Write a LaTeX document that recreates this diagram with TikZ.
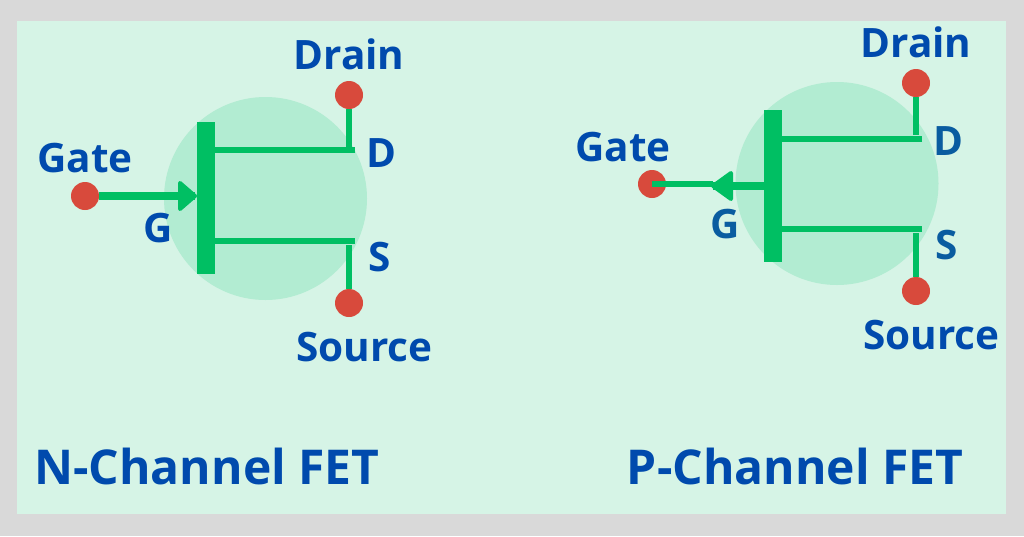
\documentclass[tikz,border=0pt]{standalone}
\usepackage{fontspec}
\setmainfont{Open Sans}
\usetikzlibrary{positioning}
\definecolor{framegray}{HTML}{D9D9D9}
\definecolor{panelgreen}{HTML}{D6F4E6}
\definecolor{blobgreen}{HTML}{B2ECD2}
\definecolor{wiregreen}{HTML}{00BF63}
\definecolor{pinred}{HTML}{D84A3C}
\definecolor{textblue}{HTML}{004AAD}
\definecolor{lettersblue}{HTML}{0A5CA0}
\tikzset{
  wire/.style={draw=wiregreen, line width=6.5pt},
  gatewire/.style={draw=wiregreen, line width=7.5pt},
  pin/.style={circle, fill=pinred, minimum size=28pt, inner sep=0pt},
  gatebar/.style={fill=wiregreen, minimum width=18pt, minimum height=152pt, inner sep=0pt},
  tip/.style={fill=wiregreen, draw=wiregreen, line width=4pt, line join=round},
  lbl/.style={text=textblue, font=\bfseries\fontsize{40.5}{40.5}\selectfont, inner sep=0pt},
  title/.style={text=textblue, font=\bfseries\fontsize{48}{48}\selectfont, inner sep=0pt},
  blob/.style={circle, fill=blobgreen, minimum size=203pt, inner sep=0pt}
}
\begin{document}
\begin{tikzpicture}[x=1pt, y=-1pt]
  \useasboundingbox (0,0) rectangle (1024,536);
  \fill[framegray] (0,0) rectangle (1024,536);
  \fill[panelgreen] (17,21) rectangle (1006,514);

  % n channel
  \node[blob] (nblob) at (265.5,198.5) {};
  \node[gatebar] (nbar) at (206,198) {};
  \node[pin] (ngate) at (85,196) {};
  \node[pin] (ndrain) at (349,95) {};
  \node[pin] (nsource) at (349,303) {};
  \coordinate (nd) at (349,147);
  \coordinate (ndend) at (355,150);
  \coordinate (ns) at (349,245);
  \coordinate (nsend) at (355,241);
  \draw[wire] (ndrain) -- (nd);
  \draw[wire] (nsource) -- (ns);
  \draw[wire] (ndend) -- (ndend -| nbar);
  \draw[wire] (nsend) -- (nsend -| nbar);
  \coordinate (ntip) at (195,196);
  \draw[gatewire] (ngate) -- (ntip);
  \draw[tip] (ntip) -- ++(-15,-13) -- ++(0,26) -- cycle;
  \node[lbl] (ngatel) at (85,158) {Gate};
  \node[lbl] (ndrainl) at (349,54) {Drain};
  \node[lbl] (nsourcel) at (364.5,347) {Source};
  \node[lbl] (ng) at (158,228) {G};
  \node[lbl] (ndl) at (381,153) {D};
  \node[lbl] (nsl) at (380,257) {S};
  \node[title] (ntitle) at (207,466) {N-Channel FET};

  % p channel
  \node[blob] (pblob) at (837,183.5) {};
  \node[gatebar] (pbar) at (773,186) {};
  \node[pin] (pgate) at (652,184) {};
  \node[pin] (pdrain) at (916,83) {};
  \node[pin] (psource) at (916,291) {};
  \coordinate (pd) at (916,135);
  \coordinate (pdend) at (922,139);
  \coordinate (ps) at (916,233);
  \coordinate (psend) at (922,229);
  \draw[wire] (pdrain) -- (pd);
  \draw[wire] (psource) -- (ps);
  \draw[wire] (pdend) -- (pdend -| pbar);
  \draw[wire] (psend) -- (psend -| pbar);
  \coordinate (ptip) at (713,186);
  \draw[wire] (pgate.center) -- (ptip |- pgate);
  \draw[gatewire] (ptip) -- (ptip -| pbar);
  \draw[tip] (ptip) -- ++(18,-13) -- ++(0,26) -- cycle;
  \node[lbl] (pgatel) at (623,147) {Gate};
  \node[lbl] (pdrainl) at (916,42) {Drain};
  \node[lbl] (psourcel) at (931.5,335) {Source};
  \node[lbl, text=lettersblue] (pg) at (725,224) {G};
  \node[lbl, text=lettersblue] (pdl) at (948,141) {D};
  \node[lbl, text=lettersblue] (psl) at (947,245) {S};
  \node[title] (ptitle) at (795,466) {P-Channel FET};
\end{tikzpicture}
\end{document}
